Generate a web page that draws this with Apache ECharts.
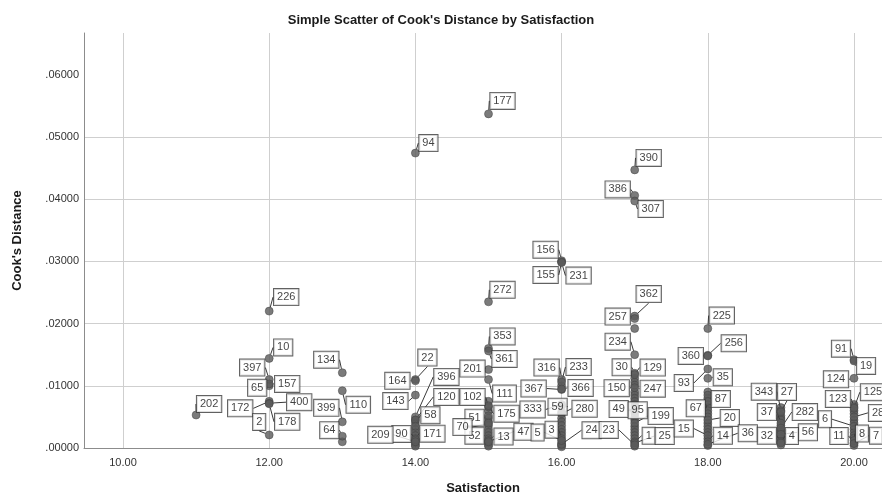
<!DOCTYPE html>
<html>
<head>
<meta charset="utf-8">
<title>Simple Scatter of Cook's Distance by Satisfaction</title>
<script src="https://cdn.jsdelivr.net/npm/echarts@6.0.0/dist/echarts.min.js"></script>
<style>
  html, body { margin: 0; padding: 0; background: #ffffff; }
  #chart { width: 882px; height: 500px; }
</style>
</head>
<body>
<div id="chart"></div>
<script>
// Labelled cases: case number, satisfaction score, Cook's distance
const caseIds = [
  202,
  226, 10, 397, 65, 157, 172, 400, 178, 2,
  134, 110, 399, 64,
  94, 22, 164, 143, 396, 120, 58, 171, 90, 209,
  177, 272, 353, 361, 201, 111, 102, 175, 51, 52, 13, 70, 47,
  333, 367, 156, 155, 231, 316, 233, 366, 59, 280, 24, 3, 5,
  390, 386, 307, 362, 257, 234, 30, 129, 150, 247, 49, 95, 199, 1, 25, 23,
  225, 256, 360, 93, 35, 87, 67, 20, 15, 14, 36,
  343, 27, 37, 282, 56, 32, 4,
  91, 19, 124, 123, 125, 6, 11, 28, 8, 7
];
const satisfaction = [
  11,
  12, 12, 12, 12, 12, 12, 12, 12, 12,
  13, 13, 13, 13,
  14, 14, 14, 14, 14, 14, 14, 14, 14, 14,
  15, 15, 15, 15, 15, 15, 15, 15, 15, 15, 15, 15, 15,
  16, 16, 16, 16, 16, 16, 16, 16, 16, 16, 16, 16, 16,
  17, 17, 17, 17, 17, 17, 17, 17, 17, 17, 17, 17, 17, 17, 17, 17,
  18, 18, 18, 18, 18, 18, 18, 18, 18, 18, 18,
  19, 19, 19, 19, 19, 19, 19,
  20, 20, 20, 20, 20, 20, 20, 20, 20, 20
];
const cooksDistance = [
  0.0053,
  0.0220, 0.0144, 0.0110, 0.0100, 0.0103, 0.0075, 0.0072, 0.0071, 0.0021,
  0.0121, 0.0092, 0.0042, 0.0019,
  0.0474, 0.0110, 0.0108, 0.0085, 0.0050, 0.0045, 0.0035, 0.0015, 0.0013, 0.0010,
  0.0537, 0.0235, 0.0160, 0.0156, 0.0126, 0.0110, 0.0066, 0.0068, 0.0052, 0.0015, 0.0012, 0.0040, 0.0010,
  0.0070, 0.0094, 0.0301, 0.0299, 0.0298, 0.0110, 0.0106, 0.0095, 0.0068, 0.0055, 0.0006, 0.0015, 0.0012,
  0.0447, 0.0406, 0.0397, 0.0212, 0.0208, 0.0150, 0.0120, 0.0118, 0.0101, 0.0097, 0.0061, 0.0059, 0.0040, 0.0010, 0.0008, 0.0005,
  0.0192, 0.0149, 0.0148, 0.0127, 0.0112, 0.0085, 0.0075, 0.0045, 0.0020, 0.0010, 0.0006,
  0.0060, 0.0058, 0.0040, 0.0032, 0.0022, 0.0010, 0.0008,
  0.0142, 0.0140, 0.0112, 0.0066, 0.0064, 0.0035, 0.0008, 0.0050, 0.0012, 0.0007
];

// Remaining (unlabelled) cases
const otherSatisfaction = [
  13,
  14, 14, 14, 14, 14, 14, 14, 14,
  15, 15, 15, 15, 15, 15, 15, 15, 15, 15, 15,
  16, 16, 16, 16, 16, 16, 16, 16, 16, 16, 16,
  17, 17, 17, 17, 17, 17, 17, 17, 17, 17, 17, 17, 17, 17, 17, 17, 17, 17,
  18, 18, 18, 18, 18, 18, 18, 18, 18, 18, 18, 18, 18,
  19, 19, 19, 19, 19, 19, 19, 19, 19, 19,
  20, 20, 20, 20, 20, 20, 20, 20, 20, 20
];
const otherCooksDistance = [
  0.0010,
  0.0045, 0.0040, 0.0030, 0.0025, 0.0020, 0.0008, 0.0005, 0.0003,
  0.0075, 0.0060, 0.0048, 0.0042, 0.0036, 0.0030, 0.0025, 0.0020, 0.0008, 0.0005, 0.0003,
  0.0100, 0.0058, 0.0048, 0.0042, 0.0036, 0.0030, 0.0025, 0.0020, 0.0008, 0.0004, 0.0002,
  0.0192, 0.0112, 0.0106, 0.0090, 0.0085, 0.0080, 0.0075, 0.0070, 0.0066, 0.0055, 0.0050, 0.0045, 0.0035, 0.0030, 0.0025, 0.0020, 0.0015, 0.0003,
  0.0090, 0.0080, 0.0070, 0.0065, 0.0060, 0.0055, 0.0050, 0.0040, 0.0035, 0.0030, 0.0025, 0.0015, 0.0004,
  0.0065, 0.0052, 0.0048, 0.0045, 0.0036, 0.0028, 0.0025, 0.0018, 0.0015, 0.0005,
  0.0070, 0.0060, 0.0055, 0.0045, 0.0040, 0.0030, 0.0025, 0.0020, 0.0016, 0.0004
];

// Tick values
const xTicks = [10, 12, 14, 16, 18, 20];
const yTicks = [0, 0.01, 0.02, 0.03, 0.04, 0.05, 0.06];

// Where each case label box sits relative to its point (pixels)
const labelPlacement = {
  202: [13, -11],
  226: [17, -14], 10: [14, -11], 397: [-17, -12], 65: [-12, 2], 157: [18, 0],
  172: [-29, 7], 400: [30, -1], 178: [18, 18], 2: [-10, -13],
  134: [-16, -13], 110: [16, 14], 399: [-16, -14], 64: [-13, -6],
  94: [13, -10], 22: [12, -22], 164: [-18, 0], 143: [-20, 6], 396: [31, -40],
  120: [31, -23], 58: [15, -11], 171: [17, -5], 90: [-14, -6], 209: [-35, -7],
  177: [14, -13], 272: [14, -12], 353: [14, -12], 361: [16, 8], 201: [-16, -1],
  111: [16, 14], 102: [-16, -10], 175: [18, 8], 51: [-14, 2], 52: [-14, -3],
  13: [15, -4], 70: [-26, 4], 47: [35, -10],
  333: [-29, 5], 367: [-28, -1], 156: [-16, -11], 155: [-16, 13], 231: [17, 13],
  316: [-15, -12], 233: [17, -15], 366: [19, -1], 59: [-4, 1], 280: [23, -5],
  24: [30, -14], 3: [-10, -9], 5: [-24, -8],
  390: [14, -12], 386: [-17, -6], 307: [16, 8], 362: [14, -22], 257: [-17, -2],
  234: [-17, -13], 30: [-13, -6], 129: [18, -7], 150: [-18, 3], 247: [18, 1],
  49: [-16, -1], 95: [3, -1], 199: [26, -7], 1: [14, -6], 25: [30, -7], 23: [-26, -15],
  225: [14, -13], 256: [26, -12], 360: [-17, 0], 93: [-24, 14], 35: [15, -1],
  87: [13, 4], 67: [-12, 7], 20: [22, -2], 15: [-24, -7], 14: [15, -6], 36: [40, -11],
  343: [-17, -19], 27: [6, -20], 37: [-14, -11], 282: [24, -16], 56: [27, -2],
  32: [-14, -6], 4: [11, -7],
  91: [-13, -11], 19: [12, 5], 124: [-18, 1], 123: [-16, -8], 125: [19, -16],
  6: [-29, -7], 11: [-15, -7], 28: [24, -4], 8: [8, -7], 7: [22, -8]
};

const labelledData = caseIds.map((id, i) => ({
  value: [satisfaction[i], cooksDistance[i]],
  name: String(id)
}));
const otherData = otherSatisfaction.map((x, i) => [x, otherCooksDistance[i]]);

const FONT = 'Arial, "Liberation Sans", Helvetica, sans-serif';
const pointStyle = { color: '#5a5a5a', borderColor: '#404040', borderWidth: 0.6 };

const chart = echarts.init(document.getElementById('chart'), null, { renderer: 'canvas' });

chart.setOption({
  animation: false,
  backgroundColor: '#ffffff',
  title: {
    text: "Simple Scatter of Cook's Distance by Satisfaction",
    left: 'center',
    top: 9,
    textStyle: { fontFamily: FONT, fontSize: 13, fontWeight: 'bold', color: '#1a1a1a' }
  },
  grid: { left: 84, right: 0, top: 33, bottom: 48, containLabel: false },
  xAxis: {
    type: 'value',
    min: 9.4665,
    max: 20.383,
    name: 'Satisfaction',
    nameLocation: 'middle',
    nameGap: 34,
    nameTextStyle: { fontFamily: FONT, fontSize: 13, fontWeight: 'bold', color: '#1a1a1a' },
    axisLine: { show: true, lineStyle: { color: '#8c8c8c', width: 1 } },
    axisTick: { show: false, customValues: xTicks },
    axisLabel: {
      customValues: xTicks,
      margin: 9,
      fontFamily: FONT, fontSize: 11, color: '#333333',
      formatter: v => v.toFixed(2)
    },
    splitLine: { show: true, lineStyle: { color: '#cfcfcf', width: 1 } }
  },
  yAxis: {
    type: 'value',
    min: 0,
    max: 0.0667,
    name: "Cook's Distance",
    nameLocation: 'middle',
    nameGap: 60,
    nameTextStyle: { fontFamily: FONT, fontSize: 13, fontWeight: 'bold', color: '#1a1a1a' },
    axisLine: { show: true, lineStyle: { color: '#8c8c8c', width: 1 } },
    axisTick: { show: false, customValues: yTicks },
    axisLabel: {
      customValues: yTicks,
      margin: 5,
      fontFamily: FONT, fontSize: 11, color: '#333333',
      formatter: v => v.toFixed(5).replace(/^0/, '')
    },
    splitLine: { show: true, showMaxLine: false, lineStyle: { color: '#cfcfcf', width: 1 } }
  },
  series: [
    {
      name: 'Other cases',
      type: 'scatter',
      symbol: 'circle',
      symbolSize: 8,
      itemStyle: pointStyle,
      data: otherData,
      z: 2
    },
    {
      name: 'Labelled cases',
      type: 'scatter',
      symbol: 'circle',
      symbolSize: 8,
      itemStyle: pointStyle,
      data: labelledData,
      z: 3,
      label: {
        show: true,
        position: 'inside',
        formatter: p => p.name,
        fontFamily: FONT,
        fontSize: 11,
        lineHeight: 12,
        color: '#111111',
        backgroundColor: '#ffffff',
        borderColor: '#3a3a3a',
        borderWidth: 1,
        padding: [2, 3, 2, 3]
      },
      labelLine: {
        show: true,
        length2: 0,
        lineStyle: { color: '#3a3a3a', width: 1 }
      },
      labelLayout: params => {
        const id = caseIds[params.dataIndex];
        const off = labelPlacement[id] || [0, -14];
        return { dx: off[0], dy: off[1] };
      }
    }
  ]
});
</script>
</body>
</html>
